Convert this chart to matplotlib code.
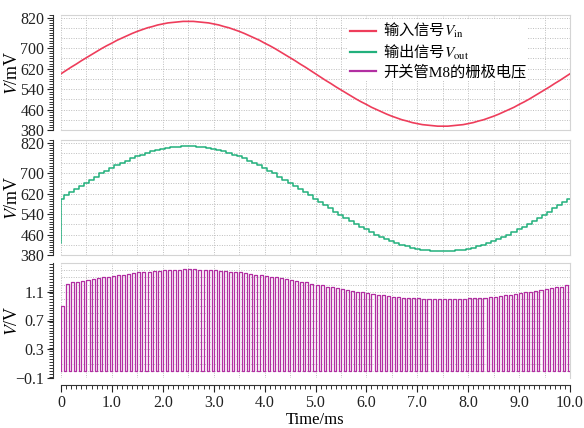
import numpy as np
import matplotlib
matplotlib.use('Agg')
import matplotlib.pyplot as plt
from matplotlib.ticker import FixedLocator, MultipleLocator

plt.rcParams['font.family'] = ['Liberation Serif', 'Noto Sans CJK SC']
plt.rcParams['mathtext.fontset'] = 'stix'
plt.rcParams['axes.unicode_minus'] = True

# time axis, one sample per switching period (0.1 ms)
t_ms = np.round(np.arange(0, 101) * 0.1, 1)

# input signal V_in (mV)
vin_mv = [600, 613, 626, 638, 651, 663, 675, 687, 699, 710, 720, 731, 740, 749, 758, 766,
          773, 780, 785, 791, 795, 799, 801, 803, 805, 805,
          805, 803, 801, 799, 795, 791, 785, 780, 773, 766, 758, 749, 740, 731, 720, 710,
          699, 687, 675, 663, 651, 638, 626, 613, 600,
          587, 574, 562, 549, 537, 525, 513, 501, 490, 480, 469, 460, 451, 442, 434, 427,
          420, 415, 409, 405, 401, 399, 397, 395, 395,
          395, 397, 399, 401, 405, 409, 415, 420, 427, 434, 442, 451, 460, 469, 480, 490,
          501, 513, 525, 537, 549, 562, 574, 587, 600]

# output starts here before the first sample
vout_start = 425

# high level of each gate pulse of switch M8 (V)
gate_v = [0.90,
          1.21, 1.23, 1.24, 1.25, 1.26, 1.28, 1.29, 1.30, 1.31, 1.32, 1.33, 1.34, 1.35, 1.36,
          1.37, 1.37, 1.38, 1.39, 1.39, 1.40, 1.40, 1.40, 1.40, 1.41, 1.41,
          1.41, 1.40, 1.40, 1.40, 1.40, 1.39, 1.39, 1.38, 1.37, 1.37, 1.36, 1.35, 1.34, 1.33,
          1.32, 1.31, 1.30, 1.29, 1.28, 1.26, 1.25, 1.24, 1.23, 1.21, 1.20,
          1.19, 1.17, 1.16, 1.15, 1.14, 1.13, 1.11, 1.10, 1.09, 1.08, 1.07, 1.06, 1.05, 1.04,
          1.03, 1.03, 1.02, 1.02, 1.01, 1.01, 1.00, 1.00, 1.00, 1.00, 1.00,
          1.00, 1.00, 1.00, 1.00, 1.01, 1.01, 1.02, 1.02, 1.03, 1.03, 1.04, 1.05, 1.06, 1.07,
          1.08, 1.09, 1.10, 1.11, 1.13, 1.14, 1.15, 1.16, 1.17, 1.19]
gate_low = 0.0
pulse_on_ms = 0.06

labels = ['输入信号$V_{\\rm in}$', '输出信号$V_{\\rm out}$', '开关管M8的栅极电压']
mv_ticks = [380, 460, 540, 620, 700, 820]
v_ticks = [-0.1, 0.3, 0.7, 1.1]
x_ticks = np.arange(0, 11, 1.0)
x_ticklabels = ['0'] + ['%.1f' % v for v in x_ticks[1:]]

c_in = '#ee3d5b'
c_out = '#22b07c'
c_gate = '#b22fa2'

# staircase for the held output
vin = np.array(vin_mv, dtype=float)
xs = np.concatenate([[0.0, 0.005], t_ms[1:] - 0.05, [10.0]])
ys = np.concatenate([[vout_start], vin[:1], vin[1:], vin[-1:]])

# gate pulse train
px, py = [], []
for k, g in enumerate(gate_v):
    t0 = t_ms[k]
    px += [t0, t0, t0 + pulse_on_ms, t0 + pulse_on_ms]
    py += [gate_low, g, g, gate_low]
px.append(10.0)
py.append(gate_low)

fig = plt.figure(figsize=(5.84, 4.28), dpi=100)
left, width, h = 61 / 584, 509 / 584, 115 / 428
ax1 = fig.add_axes([left, 298 / 428, width, h])
ax2 = fig.add_axes([left, 173 / 428, width, h])
ax3 = fig.add_axes([left, 50 / 428, width, h])

grid_kw = dict(color='#bdbdbd', lw=0.7, ls=(0, (1, 1.5)), zorder=0)
ylab_x = (21 - 61) / 509

for ax in (ax1, ax2, ax3):
    ax.set_xlim(0, 10)
    for xv in np.arange(0, 10.01, 0.5):
        ax.axvline(xv, **grid_kw)
    for s in ('top', 'right', 'bottom'):
        ax.spines[s].set_color('#d4d4d4')
        ax.spines[s].set_linewidth(0.8)
    ax.spines['left'].set_position(('outward', 6))
    ax.spines['left'].set_color('#333333')
    ax.tick_params(axis='y', which='major', direction='out', length=4, width=0.8,
                   labelsize=11.5, colors='#222222', pad=2)
    ax.tick_params(axis='y', which='minor', direction='out', length=3, width=0.7,
                   colors='#333333')
    ax.set_xticks(x_ticks)
    ax.xaxis.set_minor_locator(MultipleLocator(0.1))

for ax in (ax1, ax2):
    ax.set_ylim(380, 830)
    for yv in np.arange(380, 821, 40):
        ax.axhline(yv, **grid_kw)
    ax.yaxis.set_major_locator(FixedLocator(mv_ticks))
    ax.yaxis.set_minor_locator(MultipleLocator(10))
    ax.tick_params(axis='x', which='both', bottom=False, labelbottom=False)
    ax.set_ylabel('$V$/mV', fontsize=13)
    ax.yaxis.set_label_coords(ylab_x, 0.5)

ax3.set_ylim(-0.1, 1.5)
for yv in np.arange(-0.1, 1.51, 0.1):
    ax3.axhline(yv, **grid_kw)
ax3.yaxis.set_major_locator(FixedLocator(v_ticks))
ax3.yaxis.set_minor_locator(MultipleLocator(0.04))
ax3.set_yticklabels(['\u22120.1', '0.3', '0.7', '1.1'])
ax3.set_ylabel('$V$/V', fontsize=13)
ax3.yaxis.set_label_coords(ylab_x, 0.5)
ax3.spines['bottom'].set_position(('outward', 5))
ax3.spines['bottom'].set_color('#333333')
ax3.tick_params(axis='x', which='major', direction='out', length=5, width=0.8,
                labelsize=11.5, colors='#222222', pad=2)
ax3.tick_params(axis='x', which='minor', direction='out', length=3, width=0.7,
                colors='#333333')
ax3.set_xticklabels(x_ticklabels)
ax3.set_xlabel('Time/ms', fontsize=12, labelpad=1)

l1, = ax1.plot(t_ms, vin, color=c_in, lw=1.2, zorder=3)
l2, = ax2.plot(xs, ys, color=c_out, lw=1.1, drawstyle='steps-post', zorder=3)
l3, = ax3.plot(px, py, color=c_gate, lw=0.9, zorder=3)

leg = ax1.legend([l1, l2, l3], labels, loc='upper left', bbox_to_anchor=(0.563, 0.965),
                 borderaxespad=0, frameon=True, fontsize=11, handlelength=1.7,
                 handletextpad=0.45, labelspacing=0.15, borderpad=0.15)
leg.get_frame().set_facecolor('white')
leg.get_frame().set_edgecolor('none')
leg.get_frame().set_alpha(1)
leg.set_zorder(5)
for line in leg.get_lines():
    line.set_linewidth(1.6)
texts = leg.get_texts()
texts[0].set_family('Noto Sans CJK SC')
texts[1].set_family('Noto Sans CJK SC')
texts[2].set_family(['Liberation Serif', 'Noto Sans CJK SC'])

fig.savefig('out.png', dpi=100)
